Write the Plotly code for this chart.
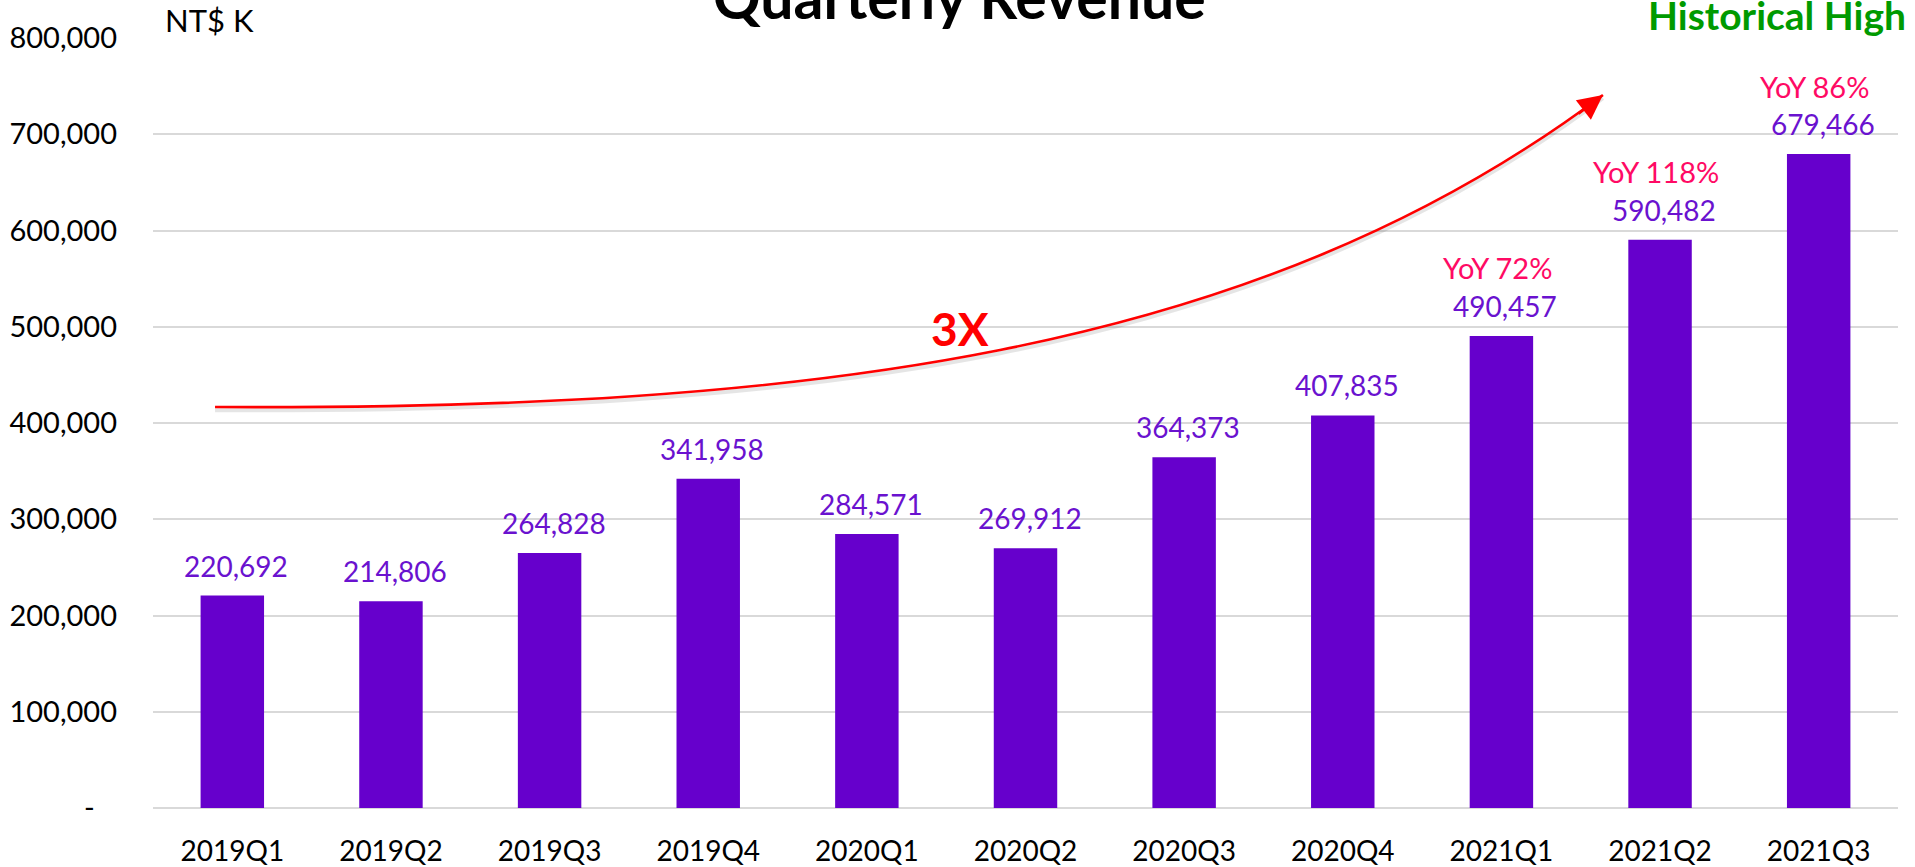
import plotly.graph_objects as go

# ---------------- data ----------------
quarters = ["2019Q1", "2019Q2", "2019Q3", "2019Q4", "2020Q1", "2020Q2",
            "2020Q3", "2020Q4", "2021Q1", "2021Q2", "2021Q3"]
revenue = [220692, 214806, 264828, 341958, 284571, 269912,
           364373, 407835, 490457, 590482, 679466]
yoy_pct = [None, None, None, None, None, None, None, None, 72, 118, 86]

y_ticks = [0, 100000, 200000, 300000, 400000, 500000, 600000, 700000, 800000]
y_tick_text = ["-\u00a0\u00a0\u00a0"] + [f"{v:,}" for v in y_ticks[1:]]

# hand-drawn "3X" trend arrow (decoration): cubic Bezier control points in axis units
trend_ctrl_x = [-0.109, 3.616, 6.447, 8.640]
trend_ctrl_y = [416600, 413500, 469600, 740800]
trend_label = "3X"
trend_label_pos = (4.587, 498700)

title_text = "Quarterly Revenue"
unit_text = "NT$ K"
badge_text = "Historical High"

# ---------------- style ----------------
FONT = "Lato, 'Open Sans', sans-serif"
BAR = "#6600CC"
LABEL = "#6A12CF"
YOY = "#FF0A64"
RED = "#FF0000"
GREEN = "#009A00"
GRID = "#D9D9D9"

idx = list(range(len(quarters)))

fig = go.Figure()
fig.add_trace(go.Bar(x=idx, y=revenue, width=0.4, marker_color=BAR,
                     marker_line_width=0, hoverinfo="skip"))


def bezier_path(xs, ys, dy=0):
    p = [f"{x},{y + dy}" for x, y in zip(xs, ys)]
    return f"M {p[0]} C {p[1]} {p[2]} {p[3]}"


shapes = [
    dict(type="path", xref="x", yref="y", path=bezier_path(trend_ctrl_x, trend_ctrl_y, -3300),
         line=dict(color="rgba(0,0,0,0.10)", width=4)),
    dict(type="path", xref="x", yref="y", path=bezier_path(trend_ctrl_x, trend_ctrl_y),
         line=dict(color=RED, width=2.6)),
]

annotations = []
# arrow head at the end of the curve
annotations.append(dict(x=trend_ctrl_x[-1], y=trend_ctrl_y[-1], xref="x", yref="y",
                        ax=-26, ay=20, showarrow=True, arrowhead=2,
                        arrowsize=1.9, arrowwidth=2.6, arrowcolor=RED, text=""))
annotations.append(dict(x=trend_label_pos[0], y=trend_label_pos[1], xref="x", yref="y",
                        text=f"<b>{trend_label}</b>", showarrow=False,
                        font=dict(family=FONT, size=46, color=RED)))

for i, v in enumerate(revenue):
    annotations.append(dict(x=i, y=v, xref="x", yref="y", text=f"{v:,}",
                            showarrow=False, yanchor="middle", yshift=30, xshift=4,
                            font=dict(family=FONT, size=28, color=LABEL)))
    if yoy_pct[i] is not None:
        annotations.append(dict(x=i, y=v, xref="x", yref="y", text=f"YoY {yoy_pct[i]}%",
                                showarrow=False, yanchor="middle", yshift=68, xshift=-4,
                                font=dict(family=FONT, size=29, color=YOY)))

annotations.append(dict(x=0.462, y=1, xref="paper", yref="paper", text=f"<b>{title_text}</b>",
                        showarrow=False, xanchor="center", yanchor="middle", yshift=42,
                        font=dict(family=FONT, size=59, color="black")))
annotations.append(dict(x=0.0057, y=1, xref="paper", yref="paper", text=unit_text,
                        showarrow=False, xanchor="left", yanchor="middle", yshift=18,
                        font=dict(family=FONT, size=31, color="black")))
annotations.append(dict(x=0.9307, y=1, xref="paper", yref="paper", text=f"<b>{badge_text}</b>",
                        showarrow=False, xanchor="center", yanchor="middle", yshift=23,
                        font=dict(family=FONT, size=39, color=GREEN)))

fig.update_layout(
    width=1915, height=867,
    margin=dict(l=153, r=17, t=38, b=59),
    paper_bgcolor="white", plot_bgcolor="white",
    showlegend=False,
    font=dict(family=FONT, size=28, color="black"),
    annotations=annotations,
    shapes=shapes,
    xaxis=dict(range=[-0.5, 10.5], tickmode="array", tickvals=idx, ticktext=quarters,
               showgrid=False, zeroline=False, showline=False, ticks="", automargin=False,
               ticklabelstandoff=24, tickfont=dict(family=FONT, size=28, color="black")),
    yaxis=dict(range=[0, 800000], tickmode="array", tickvals=y_ticks, ticktext=y_tick_text,
               showgrid=True, gridcolor=GRID, gridwidth=1.5,
               zeroline=True, zerolinecolor=GRID, zerolinewidth=1.5, automargin=False,
               showline=False, ticks="", ticklabelstandoff=35,
               tickfont=dict(family=FONT, size=29, color="black")),
)

fig.write_html("out.html", config={"displayModeBar": False},
               post_script="document.body.style.margin='0';document.body.style.overflow='hidden';")
